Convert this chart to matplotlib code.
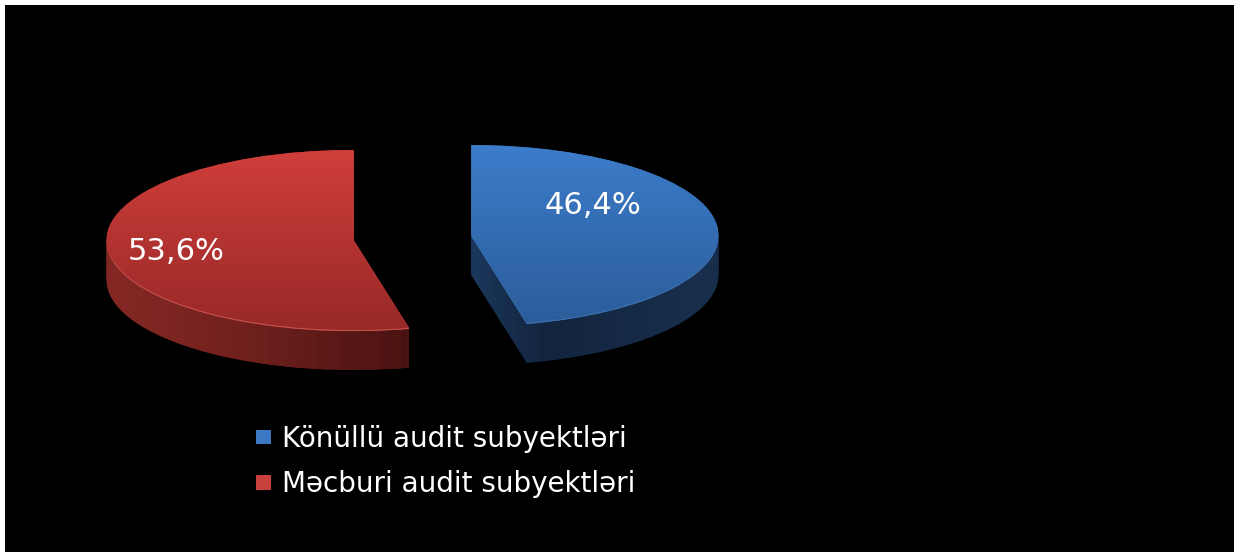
import numpy as np
import matplotlib
matplotlib.use("Agg")
import matplotlib.pyplot as plt
from matplotlib.colors import LinearSegmentedColormap
from matplotlib.patches import Patch, Rectangle

categories = ["Könüllü audit subyektləri", "Məcburi audit subyektləri"]
values = [46.4, 53.6]

top_colors = [["#2b5d9a", "#3c7cca"], ["#972927", "#d03e3b"]]
side_colors = [[(0, "#1f3f66"), (0.3, "#12243d"), (1, "#1b3352")],
               [(0, "#8e2c29"), (0.5, "#6e201d"), (1, "#431110")]]
rim_colors = ["#3b70ae", "#c4504c"]
legend_colors = ["#3a78c4", "#c8403c"]

W, H = 1240, 552
CX, CY = 412.5, 237.5  # centre of the pie, pixels
RX, RY = 247, 90
DEPTH = 40
EXPLODE = 0.24

plt.rcParams["font.family"] = ["DejaVu Sans"]

fig = plt.figure(figsize=(W / 100, H / 100), dpi=100, facecolor="white")
fig.add_artist(Rectangle((5 / W, 0), 1229 / W, (H - 5) / H, transform=fig.transFigure,
                         facecolor="black", edgecolor="none", zorder=-5))
ax = fig.add_axes([0, 0, 1, 1])


def draw_layer(offset, cmaps, horizontal):
    wedges, _ = ax.pie(values, explode=[EXPLODE, EXPLODE], center=(0, -offset), radius=1,
                       startangle=90, counterclock=False,
                       colors=[c(0.5) for c in cmaps])
    for wedge, cmap in zip(wedges, cmaps):
        box = wedge.get_path().get_extents()
        ext = (box.x0, box.x1, box.y0, box.y1)
        if horizontal:
            grad = np.linspace(0, 1, 256).reshape(1, -1)
        else:
            grad = np.linspace(1, 0, 256).reshape(-1, 1)
        im = ax.imshow(grad, cmap=cmap, vmin=0, vmax=1, extent=ext, aspect="auto",
                       origin="upper", interpolation="bilinear", zorder=wedge.get_zorder())
        im.set_clip_path(wedge)


side_maps = [LinearSegmentedColormap.from_list("s%d" % i, c) for i, c in enumerate(side_colors)]
top_maps = [LinearSegmentedColormap.from_list("t%d" % i, c) for i, c in enumerate(top_colors)]
rim_maps = [LinearSegmentedColormap.from_list("r%d" % i, [c, c]) for i, c in enumerate(rim_colors)]

# side walls, stacked from the bottom up
for d in range(DEPTH, 1, -1):
    draw_layer(d / RY, side_maps, True)
draw_layer(1.2 / RY, rim_maps, True)
draw_layer(0, top_maps, False)

ax.set_aspect("auto")
ax.set_xlim(-CX / RX, (W - CX) / RX)
ax.set_ylim((CY - H) / RY, CY / RY)
ax.set_xticks([])
ax.set_yticks([])
ax.set_frame_on(False)
ax.patch.set_visible(False)

# percent labels
label_pos = [(593, 205), (176, 251)]
for v, (px, py) in zip(values, label_pos):
    ax.text((px - CX) / RX, (CY - py) / RY, f"{v:.1f}%".replace(".", ","),
            color="white", fontsize=22, ha="center", va="center", zorder=50)

handles = [Patch(facecolor=c, edgecolor="none") for c in legend_colors]
fig.legend(handles, categories, loc="upper left", bbox_to_anchor=(256 / W, 1 - 425 / H),
           frameon=False, fontsize=20, labelcolor="white", handlelength=0.54,
           handleheight=0.43, handletextpad=0.4, labelspacing=0.63, borderpad=0, borderaxespad=0)

fig.savefig("out.png", dpi=100, facecolor=fig.get_facecolor())
